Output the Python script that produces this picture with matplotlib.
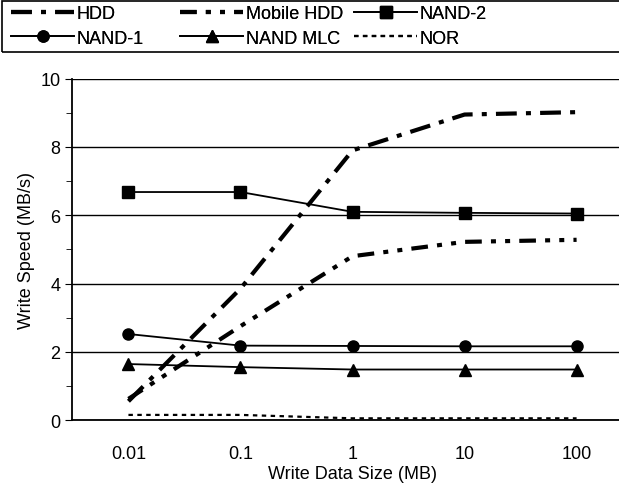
import matplotlib
matplotlib.use("Agg")
import matplotlib.pyplot as plt
from matplotlib.patches import Rectangle
import numpy as np

categories = ["0.01", "0.1", "1", "10", "100"]
hdd = [0.55, 3.85, 7.9, 8.95, 9.02]
mobile_hdd = [0.62, 2.75, 4.8, 5.22, 5.28]
nand2 = [6.68, 6.68, 6.1, 6.07, 6.05]
nand1 = [2.52, 2.18, 2.17, 2.16, 2.16]
nand_mlc = [1.64, 1.55, 1.48, 1.48, 1.48]
nor = [0.15, 0.15, 0.05, 0.05, 0.05]

plt.rcParams['font.family'] = ['Liberation Sans', 'DejaVu Sans']

W, H = 619, 489
fig = plt.figure(figsize=(W / 100, H / 100), dpi=100)
ax = fig.add_axes([0.117, 0.139, 0.905, 0.698])
x = np.arange(len(categories))

l_hdd, = ax.plot(x, hdd, color='black', lw=3.0, dashes=(5, 2.2, 1.2, 2.2), label='HDD')
l_mhdd, = ax.plot(x, mobile_hdd, color='black', lw=3.0, dashes=(4, 2.2, 1.2, 2.2, 1.2, 2.2), label='Mobile HDD')
l_n2, = ax.plot(x, nand2, color='black', lw=1.3, marker='s', ms=8, label='NAND-2')
l_n1, = ax.plot(x, nand1, color='black', lw=1.3, marker='o', ms=8, label='NAND-1')
l_mlc, = ax.plot(x, nand_mlc, color='black', lw=1.3, marker='^', ms=8, label='NAND MLC')
l_nor, = ax.plot(x, nor, color='black', lw=1.6, dashes=(2, 2), label='NOR')

ax.set_xlim(-0.5, 4.5)
ax.set_ylim(0, 10)
ax.set_yticks([0, 2, 4, 6, 8, 10])
ax.set_yticks([1, 3, 5, 7, 9], minor=True)
ax.set_xticks(x)
ax.set_xticklabels(categories)
ax.tick_params(axis='x', length=0, labelsize=13, pad=18)
ax.tick_params(axis='y', which='major', length=5, direction='out', labelsize=13)
ax.tick_params(axis='y', which='minor', length=4, direction='out')
ax.yaxis.grid(True, color='black', lw=1.0)
ax.set_axisbelow(True)
for s in ['top', 'right']:
    ax.spines[s].set_visible(False)
ax.spines['left'].set_linewidth(1.3)
ax.spines['bottom'].set_linewidth(1.3)

ax.set_ylabel('Write Speed (MB/s)', fontsize=13, labelpad=4)
ax.set_xlabel('Write Data Size (MB)', fontsize=13, labelpad=2)

# legend frame
fig.add_artist(Rectangle((2 / W, 1 - 53 / H), 1.0, 51 / H, transform=fig.transFigure,
                         fill=False, edgecolor='black', lw=1.2))

columns = [[l_hdd, l_n1], [l_mhdd, l_mlc], [l_n2, l_nor]]
col_x = [11, 180, 354]
for cx, hs in zip(col_x, columns):
    lg = fig.legend(hs, [h.get_label() for h in hs], loc='upper left',
                    bbox_to_anchor=(cx / W, 1 - 6 / H), frameon=False,
                    fontsize=13, handlelength=3.5, handletextpad=0.15,
                    borderpad=0.0, labelspacing=0.42, borderaxespad=0.0)
    fig.add_artist(lg)

fig.savefig('out.png', dpi=100)
